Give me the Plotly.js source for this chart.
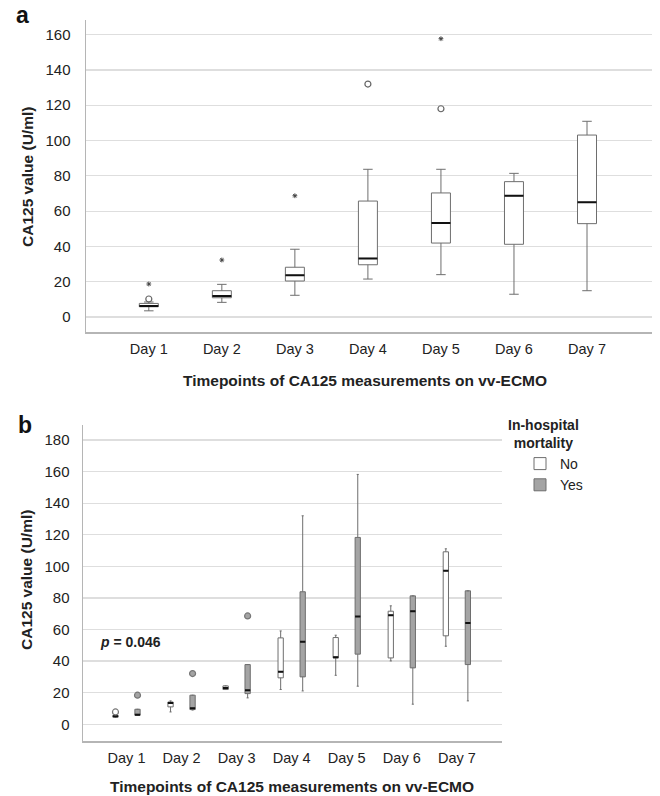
<!DOCTYPE html>
<html><head><meta charset="utf-8">
<script src="https://cdn.plot.ly/plotly-3.0.1.min.js"></script>
<style>html,body{margin:0;padding:0;background:#fff;}#chart{width:660px;height:796px;}</style>
</head><body><div id="chart"></div>
<script>
// ---------- data ----------
const days = ['Day 1','Day 2','Day 3','Day 4','Day 5','Day 6','Day 7'];

// Panel a: all patients
const aLow  = [3.5, 8.3, 12.3, 21.5, 24.0, 12.9, 14.9];
const aQ1   = [5.8, 10.9, 20.4, 29.6, 41.9, 41.2, 52.9];
const aMed  = [6.2, 11.9, 23.6, 33.2, 53.3, 68.7, 65.0];
const aQ3   = [7.7, 14.9, 28.2, 65.7, 70.3, 76.7, 103.1];
const aHigh = [8.5, 18.5, 38.4, 83.7, 83.7, 81.4, 110.9];
const aCircleDays = ['Day 1','Day 4','Day 5'];
const aCircleVals = [10.2, 132, 118];
const aStarDays = ['Day 1','Day 2','Day 3','Day 5'];
const aStarVals = [18.7, 32.3, 68.7, 157.7];

// Panel b: by in-hospital mortality
const noLow  = [4.3, 7.8, 22.0, 22.0, 31.0, 40.1, 49.4];
const noQ1   = [4.5, 11.0, 22.0, 29.4, 42.0, 42.0, 56.0];
const noMed  = [5.0, 13.5, 23.0, 33.2, 42.5, 69.1, 97.2];
const noQ3   = [5.6, 14.1, 24.3, 54.7, 54.9, 71.6, 109.2];
const noHigh = [5.8, 14.8, 24.3, 59.1, 56.4, 75.0, 111.1];
const noOutDays = ['Day 1'];
const noOutVals = [7.8];

const yesLow  = [5.7, 9.0, 16.7, 21.1, 24.1, 12.7, 14.8];
const yesQ1   = [5.7, 9.3, 19.4, 30.0, 44.4, 35.7, 37.8];
const yesMed  = [6.1, 10.2, 21.5, 52.2, 68.2, 71.6, 64.2];
const yesQ3   = [9.5, 18.4, 37.8, 83.9, 118.3, 81.3, 84.5];
const yesHigh = [9.5, 18.4, 37.8, 132, 158.2, 81.3, 84.5];
const yesOutDays = ['Day 1','Day 2','Day 3'];
const yesOutVals = [18.4, 32.1, 68.6];

const pText = '<i>p</i> = 0.046';
// ---------- styling ----------
const FONT = 'Liberation Sans, Arial, sans-serif';
const TXT = '#222';
const BOXLINE = '#6e6e6e';
const GRAYFILL = '#a4a4a4';

function medianTrace(x, med, xa, ya, group, align, width) {
  const t = {type:'box', x:x, q1:med, median:med, q3:med, lowerfence:med, upperfence:med,
    xaxis:xa, yaxis:ya, line:{color:'#111', width:2}, fillcolor:'rgba(0,0,0,0)',
    whiskerwidth:0, showlegend:false, hoverinfo:'skip', offsetgroup:group, alignmentgroup:align};
  if (width) t.width = width;
  return t;
}
function outlierTrace(x, y, group, marker) {
  return {type:'box', x:x, y:y, xaxis:'x2', yaxis:'y2', offsetgroup:group, alignmentgroup:'b',
    boxpoints:'all', jitter:0, pointpos:0, line:{color:'rgba(0,0,0,0)', width:0},
    fillcolor:'rgba(0,0,0,0)', marker:marker, showlegend:false, hoverinfo:'skip'};
}

const traces = [
  // panel a
  {type:'box', x:days, q1:aQ1, median:aMed, q3:aQ3, lowerfence:aLow, upperfence:aHigh,
   xaxis:'x', yaxis:'y', offsetgroup:'a', alignmentgroup:'a', width:0.26,
   line:{color:BOXLINE, width:1}, fillcolor:'#fff', whiskerwidth:0.5,
   showlegend:false, hoverinfo:'skip'},
  medianTrace(days, aMed, 'x', 'y', 'a', 'a', 0.26),
  {type:'scatter', mode:'markers', x:aCircleDays, y:aCircleVals, xaxis:'x', yaxis:'y',
   marker:{symbol:'circle-open', size:6, color:'#666', line:{width:1.2}}, showlegend:false, hoverinfo:'skip'},
  {type:'scatter', mode:'markers', x:aStarDays, y:aStarVals, xaxis:'x', yaxis:'y',
   marker:{symbol:'asterisk-open', size:4, color:'#444', line:{width:1, color:'#444'}}, showlegend:false, hoverinfo:'skip'},
  // panel b
  {type:'box', name:'No', x:days, q1:noQ1, median:noMed, q3:noQ3, lowerfence:noLow, upperfence:noHigh,
   xaxis:'x2', yaxis:'y2', offsetgroup:'no', alignmentgroup:'b', line:{color:BOXLINE, width:1},
   fillcolor:'#fff', whiskerwidth:0.4, showlegend:true, hoverinfo:'skip'},
  {type:'box', name:'Yes', x:days, q1:yesQ1, median:yesMed, q3:yesQ3, lowerfence:yesLow, upperfence:yesHigh,
   xaxis:'x2', yaxis:'y2', offsetgroup:'yes', alignmentgroup:'b', line:{color:BOXLINE, width:1},
   fillcolor:GRAYFILL, whiskerwidth:0.4, showlegend:true, hoverinfo:'skip'},
  medianTrace(days, noMed, 'x2', 'y2', 'no', 'b'),
  medianTrace(days, yesMed, 'x2', 'y2', 'yes', 'b'),
  outlierTrace(noOutDays, noOutVals, 'no', {symbol:'circle', size:6, color:'#fff', line:{color:'#777', width:1.2}}),
  outlierTrace(yesOutDays, yesOutVals, 'yes', {symbol:'circle', size:6, color:GRAYFILL, line:{color:'#777', width:1.2}})
];

const W = 660, H = 796;
const px = v => v / W, py = v => 1 - v / H;

const axisCommon = {
  showline:true, linecolor:'#b5b5b5', linewidth:1.5, ticks:'', zeroline:false,
  tickfont:{family:FONT, size:14.5, color:TXT}, fixedrange:true
};

function ann(text, x, y, size, extra) {
  return Object.assign({text:text, x:px(x), y:py(y), xref:'paper', yref:'paper',
    xanchor:'center', yanchor:'middle', showarrow:false,
    font:{family:FONT, size:size, color:TXT}}, extra || {});
}

const layout = {
  width:W, height:H, margin:{l:0, r:0, t:0, b:0},
  paper_bgcolor:'#fff', plot_bgcolor:'#fff',
  font:{family:FONT, color:TXT},
  boxmode:'group', boxgap:0.2, boxgroupgap:0.76,
  xaxis:Object.assign({}, axisCommon, {domain:[px(86), px(652)], anchor:'y', type:'category',
    range:[-0.86, 6.89], showgrid:false, ticklabelstandoff:3, categoryarray:days}),
  yaxis:Object.assign({}, axisCommon, {domain:[py(332), py(20)], anchor:'x', range:[-8.5, 168.3],
    tickvals:[0,20,40,60,80,100,120,140,160], showgrid:true, gridcolor:'#dedede', gridwidth:1.2,
    ticklabelstandoff:11, tickfont:{family:FONT, size:15, color:TXT}}),
  xaxis2:Object.assign({}, axisCommon, {domain:[px(83), px(502)], anchor:'y2', type:'category',
    range:[-0.79, 6.82], showgrid:false, ticklabelstandoff:3, categoryarray:days}),
  yaxis2:Object.assign({}, axisCommon, {domain:[py(741), py(425)], anchor:'x2', range:[-10.6, 189.5],
    tickvals:[0,20,40,60,80,100,120,140,160,180], showgrid:true, gridcolor:'#dedede', gridwidth:1.2,
    ticklabelstandoff:9, tickfont:{family:FONT, size:15, color:TXT}}),
  showlegend:true,
  legend:{x:px(520), y:py(448), xanchor:'left', yanchor:'top', bgcolor:'rgba(0,0,0,0)',
    font:{family:FONT, size:14, color:TXT}, tracegroupgap:0, itemwidth:30},
  annotations:[
    ann('<b>a</b>', 22, 15, 23, {font:{family:FONT, size:23, color:'#111'}}),
    ann('<b>b</b>', 25, 425, 23, {font:{family:FONT, size:23, color:'#111'}}),
    ann('<b>CA125 value (U/ml)</b>', 27, 177, 15.5, {textangle:-90}),
    ann('<b>CA125 value (U/ml)</b>', 26, 580, 15.5, {textangle:-90}),
    ann('<b>Timepoints of CA125 measurements on vv-ECMO</b>', 365, 381, 15.5),
    ann('<b>Timepoints of CA125 measurements on vv-ECMO</b>', 292, 786, 15.5),
    ann('<b>' + pText + '</b>', 98, 642, 14, {xanchor:'left'}),
    ann('<b>In-hospital<br>mortality</b>', 543, 434, 14, {align:'center'})
  ]
};

Plotly.newPlot('chart', traces, layout, {staticPlot:true, displayModeBar:false});
</script>
</body></html>
